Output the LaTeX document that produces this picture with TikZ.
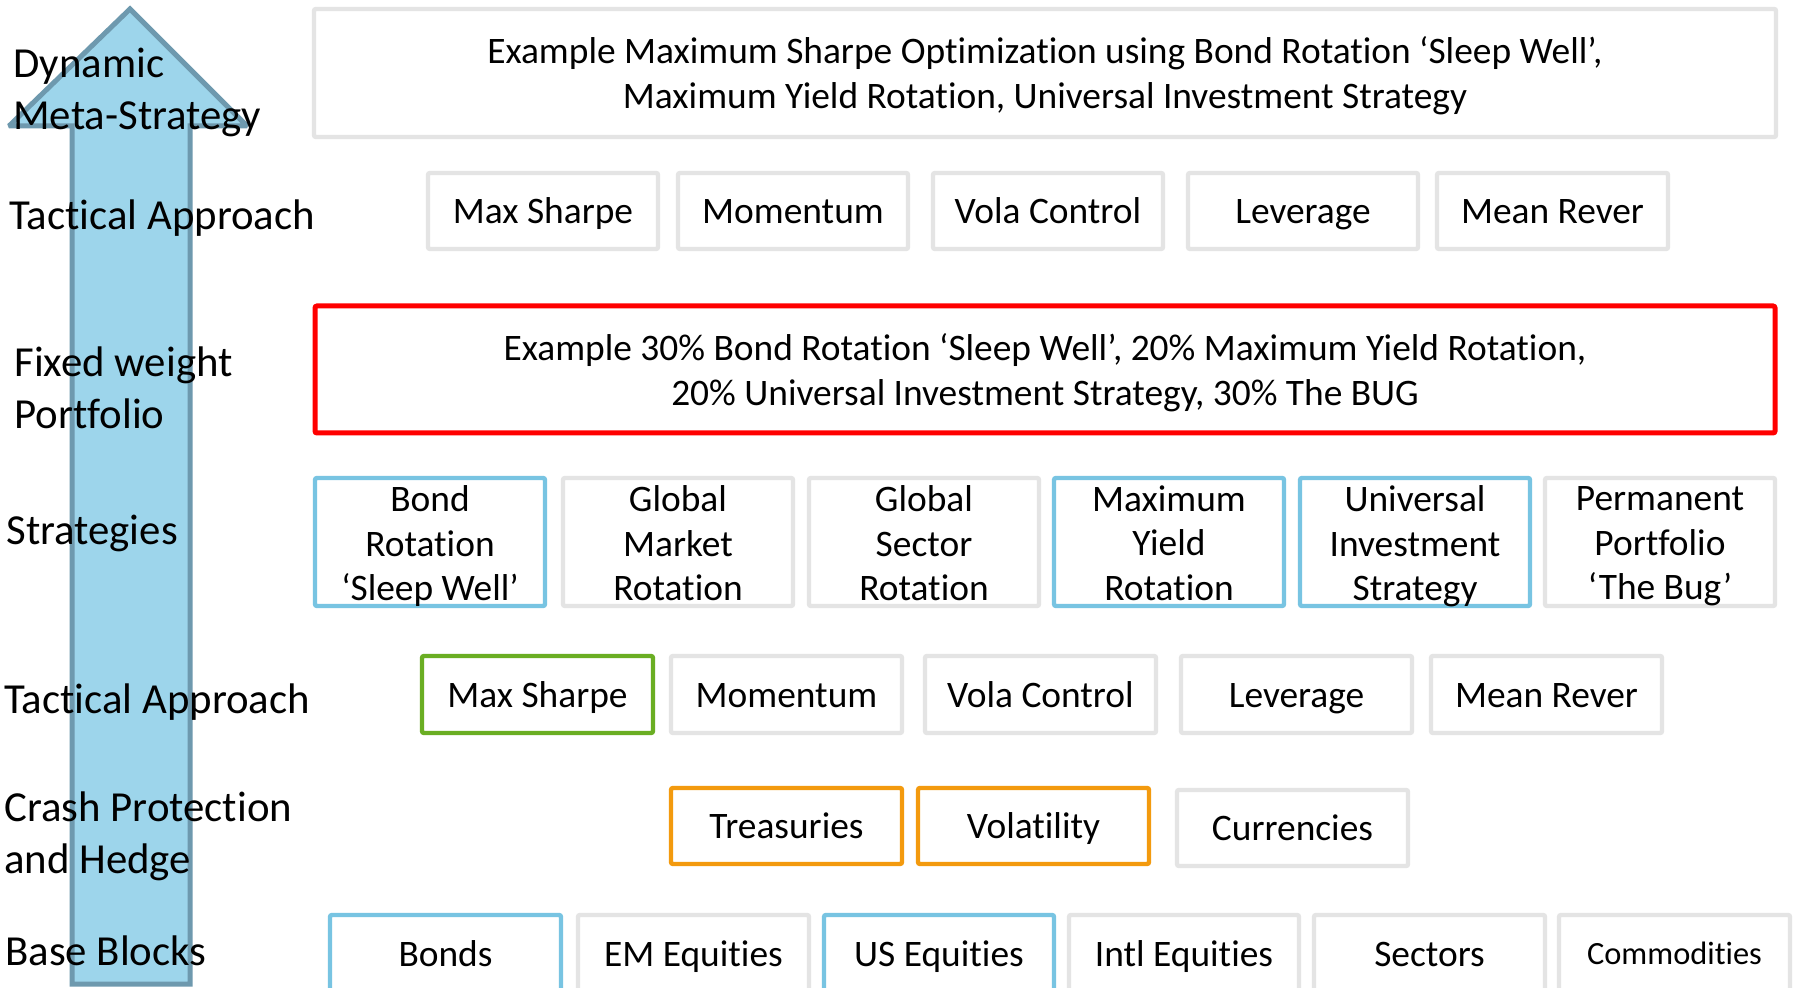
\documentclass[tikz,border=0pt]{standalone}
\usepackage{fontspec}
\setmainfont{Carlito}[Ligatures=NoCommon]

\definecolor{boxgray}{HTML}{E4E4E4}
\definecolor{boxblue}{HTML}{78C4E2}
\definecolor{boxred}{HTML}{FF0000}
\definecolor{boxgreen}{HTML}{6AAE23}
\definecolor{boxorange}{HTML}{F39A0E}
\definecolor{arrowfill}{HTML}{9DD5EB}
\definecolor{arrowedge}{HTML}{6E99AE}

% invisible rule that gives every first and last line the same height and depth
\newcommand\cellstrut{\rule[-0.25em]{0pt}{1.19em}}

\tikzset{
  celltext/.style={inner sep=0pt, align=center,
    font=\fontsize{18.7}{22.3}\selectfont,
    execute at begin node=\cellstrut, execute at end node=\cellstrut},
  cell/.style={celltext, draw=boxgray, line width=2.2pt, fill=white,
    rounded corners=1pt},
  bluecell/.style={cell, draw=boxblue},
  redcell/.style={cell, draw=boxred, line width=2.5pt},
  greencell/.style={cell, draw=boxgreen},
  orangecell/.style={cell, draw=boxorange},
  % a box given by its left, top, right and bottom edges
  span/.style args={#1/#2/#3/#4}{
    minimum width={(#3-#1)*0.5pt}, minimum height={(#4-#2)*0.5pt},
    at={({(#1+#3)/2},{(#2+#4)/2})}},
  level/.style={anchor=west, inner sep=0pt, align=left,
    font=\fontsize{21.4}{26}\selectfont},
  uparrow/.style={fill=arrowfill, draw=arrowedge, line width=2.5pt,
    line join=miter, miter limit=2},
}

\begin{document}
\begin{tikzpicture}[x=0.5pt, y=-0.5pt]
  \clip (0,0) rectangle (1794,988);
  \fill[white] (0,0) rectangle (1794,988);

  % the big upward arrow behind the level names
  \draw[uparrow] (72,984) -- (72,126) -- (9,126) -- (130,9) -- (247,126)
    -- (190,126) -- (190,984) -- cycle;

  % level names
  \node[level] (lDyn)   at (13,92)   {Dynamic\\Meta-Strategy};
  \node[level] (lTac1)  at (9,218)   {Tactical Approach};
  \node[level] (lFix)   at (14,388)  {Fixed weight\\Portfolio};
  \node[level] (lStr)   at (6,533)   {Strategies};
  \node[level] (lTac2)  at (4,702)   {Tactical Approach};
  \node[level] (lCrash) at (4,836)   {Crash Protection\\and Hedge};
  \node[level] (lBase)  at (5,951)   {Base Blocks};

  % dynamic meta-strategy
  \node[cell, span=314/9/1776/137] (meta) {};
  \node[celltext] (metaT) at ([yshift=-2pt]meta.center)
    {Example Maximum Sharpe Optimization using Bond Rotation ‘Sleep Well’,\\
     Maximum Yield Rotation, Universal Investment Strategy};

  % tactical approach (upper)
  \node[cell, span=428/173/658/249]   (tu1) {Max Sharpe};
  \node[cell, span=678/173/908/249]   (tu2) {Momentum};
  \node[cell, span=933/173/1163/249]  (tu3) {Vola Control};
  \node[cell, span=1188/173/1418/249] (tu4) {Leverage};
  \node[cell, span=1437/173/1668/249] (tu5) {Mean Rever};

  % fixed weight portfolio
  \node[redcell, span=315/306/1775/433] (fixed) {};
  \node[celltext] (fixedT) at ([yshift=-2.4pt]fixed.center)
    {Example 30\% Bond Rotation ‘Sleep Well’, 20\% Maximum Yield Rotation,\\
     20\% Universal Investment Strategy, 30\% The BUG};

  % strategies
  \node[bluecell, span=315/478/545/606]   (s1) {};
  \node[cell,     span=563/478/793/606]   (s2) {};
  \node[cell,     span=809/478/1039/606]  (s3) {};
  \node[bluecell, span=1054/478/1284/606] (s4) {};
  \node[bluecell, span=1300/478/1530/606] (s5) {};
  \node[cell,     span=1545/478/1775/606] (s6) {};
  \node[celltext] (s1T) at ([yshift=-2.9pt]s1.center) {Bond\\Rotation\\‘Sleep Well’};
  \node[celltext] (s2T) at ([yshift=-2.9pt]s2.center) {Global\\Market\\Rotation};
  \node[celltext] (s3T) at ([yshift=-2.9pt]s3.center) {Global\\Sector\\Rotation};
  \node[celltext] (s4T) at ([yshift=-2.9pt]s4.center) {Maximum\\Yield\\Rotation};
  \node[celltext] (s5T) at ([yshift=-2.9pt]s5.center) {Universal\\Investment\\Strategy};
  \node[celltext] (s6T) at ([yshift=-2.9pt]s6.center) {Permanent\\Portfolio\\‘The Bug’};

  % tactical approach (lower)
  \node[greencell, span=422/656/653/733] (tl1) {Max Sharpe};
  \node[cell, span=671/656/902/733]      (tl2) {Momentum};
  \node[cell, span=925/656/1156/733]     (tl3) {Vola Control};
  \node[cell, span=1181/656/1412/733]    (tl4) {Leverage};
  \node[cell, span=1431/656/1662/733]    (tl5) {Mean Rever};

  % crash protection and hedge
  \node[orangecell, span=671/788/902/864]  (c1) {Treasuries};
  \node[orangecell, span=918/788/1149/864] (c2) {Volatility};
  \node[cell, span=1177/790/1408/866]      (c3) {Currencies};

  % base blocks
  \node[bluecell, span=330/915/561/992]   (b1) {Bonds};
  \node[cell,     span=578/915/809/992]   (b2) {EM Equities};
  \node[bluecell, span=824/915/1054/992]  (b3) {US Equities};
  \node[cell,     span=1069/915/1299/992] (b4) {Intl Equities};
  \node[cell,     span=1314/915/1545/992] (b5) {Sectors};
  \node[cell, font=\fontsize{16.2}{19}\selectfont,
        span=1559/915/1790/992]           (b6) {Commodities};
\end{tikzpicture}
\end{document}
